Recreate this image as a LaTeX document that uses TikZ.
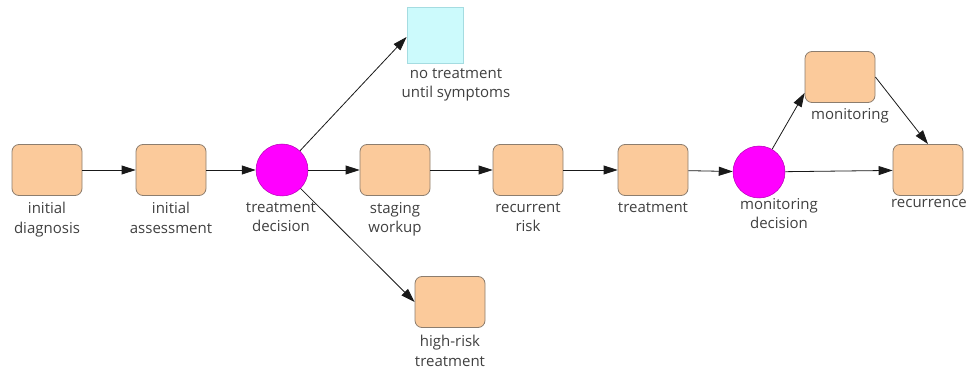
\documentclass[tikz,border=0pt]{standalone}
\usepackage{fontspec}
\setmainfont{Open Sans}
\usetikzlibrary{arrows.meta,calc}
\definecolor{peach}{RGB}{251,202,155}
\definecolor{peachline}{RGB}{140,125,110}
\definecolor{magentafill}{RGB}{255,0,255}
\definecolor{cyanfill}{RGB}{204,250,252}
\definecolor{cyanline}{RGB}{165,220,225}
\definecolor{txt}{RGB}{64,64,64}
\tikzset{
  stepbox/.style={draw=peachline, fill=peach, line width=0.8pt, rounded corners=7pt, minimum width=70pt, minimum height=51pt, inner sep=0pt},
  choice/.style={circle, draw=magentafill!70!black, line width=0.5pt, fill=magentafill, minimum size=52pt, inner sep=0pt},
  terminal/.style={draw=cyanline, fill=cyanfill, line width=0.8pt, minimum width=56pt, minimum height=56pt, inner sep=0pt},
  lbl/.style={anchor=north, align=center, text=txt, font=\fontsize{15}{19.5}\selectfont, inner sep=0pt},
  conn/.style={draw=black!90, line width=0.8pt, -{Triangle[length=14pt,width=9pt]}}
}
\begin{document}
\begin{tikzpicture}[x=1pt,y=-1pt]
\useasboundingbox (0,0) rectangle (979,371);
% nodes
\node[stepbox] (diag) at (47,170) {};
\node[stepbox] (assess) at (171,170) {};
\node[choice] (td) at (282,170) {};
\node[terminal] (nt) at (435,35) {};
\node[stepbox] (stage) at (395,170) {};
\node[stepbox] (hr) at (450,302) {};
\node[stepbox] (rr) at (528,170) {};
\node[stepbox] (treat) at (653,170) {};
\node[choice] (md) at (759,172) {};
\node[stepbox] (mon) at (840,77) {};
\node[stepbox] (rec) at (928,170) {};
% labels
\node[lbl] (ldiag) at (47,202) {initial\\diagnosis};
\node[lbl] (lassess) at (171,202) {initial\\assessment};
\node[lbl] (ltd) at (281,202) {treatment\\decision};
\node[lbl] (lnt) at (456,68) {no treatment\\until symptoms};
\node[lbl] (lstage) at (395,202) {staging\\workup};
\node[lbl] (lhr) at (450,335) {high-risk\\treatment};
\node[lbl] (lrr) at (528,202) {recurrent\\risk};
\node[lbl] (ltreat) at (653,202) {treatment};
\node[lbl] (lmd) at (779,198) {monitoring\\decision};
\node[lbl] (lmon) at (850,108) {monitoring};
\node[lbl] (lrec) at (929,199) {recurrence};
% connectors
\draw[conn] (diag) -- (assess);
\draw[conn] (assess) -- (td);
\draw[conn] (td) -- ($(nt.west)+(0,2)$);
\draw[conn] (td) -- (stage);
\draw[conn] (td) -- (hr.west);
\draw[conn] (stage) -- (rr);
\draw[conn] (rr) -- (treat);
\draw[conn] (treat) -- (md);
\draw[conn] (md) -- ($(mon.south west)+(0,-10)$);
\draw[conn] (mon.east) -- (rec.north);
\draw[conn] (md) -- (rec);
\end{tikzpicture}
\end{document}
